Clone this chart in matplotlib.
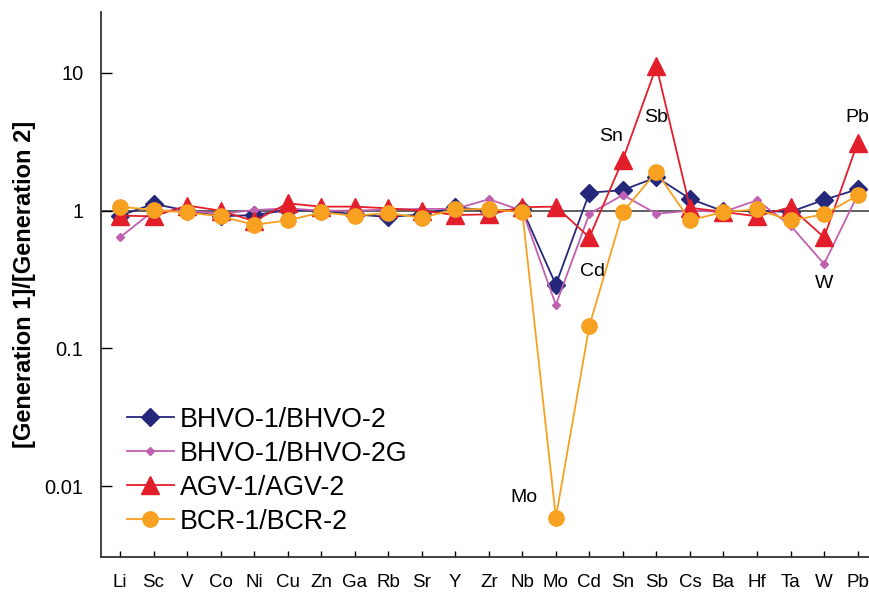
import matplotlib
matplotlib.use('Agg')
import matplotlib.pyplot as plt
import numpy as np

plt.rcParams['font.family'] = ['Liberation Sans', 'DejaVu Sans']

elements = ['Li', 'Sc', 'V', 'Co', 'Ni', 'Cu', 'Zn', 'Ga', 'Rb', 'Sr', 'Y', 'Zr',
            'Nb', 'Mo', 'Cd', 'Sn', 'Sb', 'Cs', 'Ba', 'Hf', 'Ta', 'W', 'Pb']

bhvo2 = [0.92, 1.12, 1.00, 0.91, 0.93, 1.01, 1.00, 0.94, 0.90, 0.94, 1.06, 1.00,
         1.02, 0.29, 1.35, 1.41, 1.75, 1.22, 0.99, 1.00, 0.98, 1.20, 1.43]
bhvo2g = [0.64, 1.00, 1.00, 0.95, 1.01, 1.04, 1.00, 1.00, 1.02, 1.03, 1.03, 1.21,
          1.00, 0.207, 0.95, 1.30, 0.95, 1.00, 0.98, 1.19, 0.78, 0.41, 1.30]
agv2 = [0.92, 0.91, 1.09, 1.00, 0.84, 1.13, 1.07, 1.07, 1.04, 1.00, 0.93, 0.94,
        1.06, 1.07, 0.64, 2.35, 11.2, 1.05, 0.98, 0.91, 1.06, 0.64, 3.10]
bcr2 = [1.07, 1.01, 0.97, 0.91, 0.79, 0.85, 0.97, 0.92, 0.96, 0.89, 1.02, 1.03,
        0.97, 0.0059, 0.146, 0.98, 1.92, 0.85, 0.98, 1.02, 0.85, 0.94, 1.29]

# element labels placed next to the outliers: (name, x index, y)
callouts = [('Sn', 14.66, 3.45), ('Sb', 16.0, 4.75), ('Pb', 22.0, 4.75),
            ('Cd', 14.09, 0.36), ('W', 21.0, 0.294), ('Mo', 12.06, 0.0083)]

x = np.arange(len(elements))

fig = plt.figure(figsize=(8.7, 5.92), dpi=100)
ax = fig.add_axes([0.116, 0.059, 0.884, 0.921])

ax.axhline(1, color='#444444', lw=1.2, zorder=1)

ax.plot(x, bhvo2, color='#25287a', lw=1.3, marker='D', ms=9,
        label='BHVO-1/BHVO-2', zorder=3)
ax.plot(x, bhvo2g, color='#c060b0', lw=1.3, marker='D', ms=4.5,
        label='BHVO-1/BHVO-2G', zorder=4)
ax.plot(x, agv2, color='#e21e2a', lw=1.3, marker='^', ms=13,
        label='AGV-1/AGV-2', zorder=5)
ax.plot(x, bcr2, color='#f8a020', lw=1.3, marker='o', ms=11,
        label='BCR-1/BCR-2', zorder=6)

for name, cx, cy in callouts:
    ax.text(cx, cy, name, fontsize=14, ha='center', va='center', zorder=7)

ax.set_yscale('log')
ax.set_ylim(0.00305, 27.8)
ax.set_xlim(-0.57, 22.37)
ax.set_yticks([0.01, 0.1, 1, 10])
ax.set_yticklabels(['0.01', '0.1', '1', '10'])
ax.minorticks_off()
ax.set_xticks(x)
ax.set_xticklabels(elements)

ax.tick_params(axis='y', direction='in', length=8, width=1, labelsize=14.5, pad=12.5)
ax.tick_params(axis='x', direction='in', length=4, width=1, labelsize=13.5, pad=12.5)

for side in ['top', 'right']:
    ax.spines[side].set_visible(False)
for side in ['left', 'bottom']:
    ax.spines[side].set_linewidth(1.3)
    ax.spines[side].set_color('#333333')

ax.set_ylabel('[Generation 1]/[Generation 2]', fontsize=17, fontweight='bold', labelpad=6)

ax.legend(loc='upper left', bbox_to_anchor=(0.146, 0.313), bbox_transform=fig.transFigure,
          frameon=False, fontsize=19.3, handlelength=1.75, handletextpad=0.23,
          labelspacing=0.3, borderpad=0, borderaxespad=0)

fig.savefig('out.png', dpi=100)
